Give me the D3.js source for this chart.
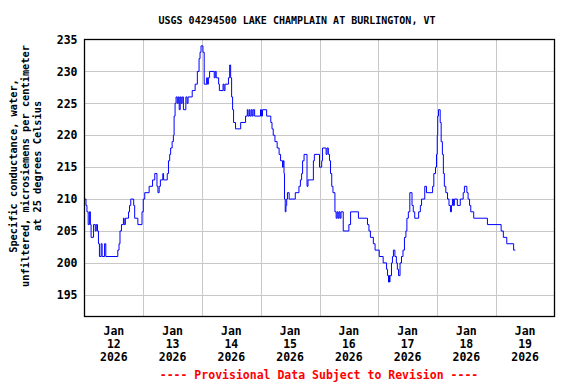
<!DOCTYPE html>
<html>
<head>
<meta charset="utf-8">
<script src="https://cdn.jsdelivr.net/npm/d3@7"></script>
<style>
  body { margin: 0; background: #fff; }
  svg { display: block; }
  text { font-family: "DejaVu Sans Mono", monospace; font-weight: bold; }
</style>
</head>
<body>
<div id="chart"></div>
<script>
// ---------------- DATA ----------------
const title = "USGS 04294500 LAKE CHAMPLAIN AT BURLINGTON, VT";
const yLabelLines = ["Specific conductance, water,", "unfiltered, microsiemens per centimeter", "at 25 degrees Celsius"];
const footer = "---- Provisional Data Subject to Revision ----";

const yTicks = [195, 200, 205, 210, 215, 220, 225, 230, 235];
const dayLabels = ["12", "13", "14", "15", "16", "17", "18", "19"];

// hours after 2026-01-12 00:00
const hours = [
  0.0, 0.6, 1.0, 1.5, 2.0, 2.4, 2.7, 3.7, 4.4, 4.8, 5.3, 5.7, 6.1, 6.8, 7.2, 8.2, 8.7,
  13.6, 14.1, 14.5, 15.1, 15.9, 16.2, 16.7, 18.0, 18.4, 18.9, 20.1, 20.5, 21.8, 23.5,
  24.0, 24.6, 26.4, 27.8, 28.7, 29.6, 30.0, 30.5, 31.0, 32.0, 32.3, 33.8, 34.3, 34.8,
  35.2, 35.8, 36.3, 36.6, 37.0, 37.4, 37.9, 38.3, 38.7, 39.1, 39.5, 39.9, 40.4, 41.4,
  41.9, 42.3, 44.0, 45.2, 46.1, 46.8, 47.2, 47.6, 48.4, 48.9, 49.9, 50.2, 50.6, 51.1,
  53.0, 53.4, 53.8, 54.8, 55.1, 56.6, 57.0, 57.4, 58.8, 59.3, 59.7, 60.1, 60.5, 60.9,
  61.7, 63.8, 65.8, 66.5, 66.8, 67.3, 67.6, 68.1, 68.5, 68.9, 69.5, 71.9, 72.3, 72.7,
  74.4, 76.1, 76.6, 77.1, 77.8, 78.7, 79.5, 80.1, 80.9, 81.2, 81.5, 81.7, 82.0, 82.3,
  82.6, 82.9, 83.6, 86.1, 87.6, 88.2, 88.7, 89.1, 89.7, 90.9, 91.3, 93.5, 93.9, 96.0,
  96.9, 97.2, 98.7, 99.1, 99.6, 100.1, 100.5, 101.0, 101.5, 102.3, 102.8, 103.2, 103.6,
  104.0, 104.4, 104.8, 105.7, 108.0, 108.7, 111.9, 115.6, 116.2, 116.8, 118.0, 118.7,
  120.4, 122.0, 123.4, 123.8, 124.2, 124.4, 124.6, 124.8, 125.4, 125.8, 126.2, 126.8,
  127.4, 127.8, 128.3, 128.9, 129.5, 130.1, 130.7, 131.3, 131.7, 132.3, 132.9, 133.8,
  134.3, 134.9, 136.5, 137.2, 137.7, 139.0, 139.7, 142.2, 142.7, 143.4, 143.8, 144.1,
  144.3, 144.6, 145.3, 145.7, 146.2, 146.6, 147.0, 147.6, 148.3, 148.9, 149.5, 149.9,
  150.3, 150.7, 151.1, 152.3, 153.5, 154.7, 155.2, 156.2, 156.7, 157.3, 157.8, 159.0,
  164.6, 170.2, 171.1, 172.5, 175.3, 176.0
];
const conductance = [
  210, 209, 208, 206, 208, 206, 204, 206, 205, 206, 205, 203, 201, 203, 201, 203, 201,
  202, 203, 205, 206, 207, 206, 207, 208, 209, 210, 209, 207, 206, 208,
  210, 211, 212, 213, 214, 212, 211, 212, 213, 214, 213, 214, 216, 217,
  218, 219, 220, 223, 225, 226, 225, 226, 224, 226, 225, 226, 224, 226,
  225, 226, 227, 228, 230, 232, 233, 234, 233, 228, 229, 228, 229, 230,
  229, 230, 229, 228, 227, 228, 227, 228, 229, 231, 229, 226, 224, 222,
  221, 222, 223, 224, 223, 224, 223, 224, 223, 224, 223, 224, 223, 224,
  223, 222, 221, 220, 219, 218, 217, 216, 215, 216, 214, 210, 208, 209,
  210, 211, 210, 211, 212, 213, 214, 216, 217, 212, 213, 216, 217, 215,
  216, 218, 217, 218, 217, 216, 214, 212, 211, 208, 207, 208, 207,
  208, 207, 208, 205, 206, 208, 207, 206, 205, 204, 203, 202,
  201, 200, 199, 198, 197, 198, 197, 198, 200, 201, 202, 201,
  200, 199, 198, 200, 201, 202, 204, 205, 207, 208, 211, 209,
  208, 207, 208, 209, 210, 212, 211, 212, 214, 215, 217, 220,
  223, 224, 222, 219, 217, 214, 212, 211, 210, 209, 208, 209,
  210, 209, 210, 209, 210, 211, 212, 211, 210, 209, 208, 207,
  206, 205, 204, 203, 202, 202
];

// ---------------- CHART ----------------
const width = 576, height = 384;
const plot = {left: 84.5, right: 554.5, top: 39.5, bottom: 316.5};

const start = Date.UTC(2026, 0, 12);
const data = hours.map((h, i) => ({t: new Date(start + h * 3600e3), v: conductance[i]}));

const svg = d3.select("#chart")
  .append("svg")
  .attr("width", width)
  .attr("height", height);

const x = d3.scaleUtc()
  .domain([new Date(start), new Date(Date.UTC(2026, 0, 20))])
  .range([plot.left, plot.right]);

const y = d3.scaleLinear()
  .domain([191.6, 235])
  .range([plot.bottom, plot.top]);

// gridlines
const dayTicks = d3.utcDay.range(new Date(Date.UTC(2026, 0, 13)), new Date(Date.UTC(2026, 0, 20)));
svg.append("g")
  .selectAll("line")
  .data(dayTicks)
  .join("line")
  .attr("x1", d => Math.round(x(d)) + 0.5)
  .attr("x2", d => Math.round(x(d)) + 0.5)
  .attr("y1", plot.top)
  .attr("y2", plot.bottom)
  .attr("stroke", "#c8c8c8")
  .attr("stroke-width", 1);

svg.append("g")
  .selectAll("line")
  .data(yTicks.slice(0, -1))
  .join("line")
  .attr("x1", plot.left)
  .attr("x2", plot.right)
  .attr("y1", d => Math.round(y(d)) + 0.5)
  .attr("y2", d => Math.round(y(d)) + 0.5)
  .attr("stroke", "#c8c8c8")
  .attr("stroke-width", 1);

// data line
svg.append("path")
  .datum(data)
  .attr("fill", "none")
  .attr("stroke", "#0000ff")
  .attr("stroke-width", 1)
  .attr("d", d3.line().x(d => x(d.t)).y(d => y(d.v)).curve(d3.curveStepAfter));

// frame
svg.append("rect")
  .attr("x", plot.left)
  .attr("y", plot.top)
  .attr("width", plot.right - plot.left)
  .attr("height", plot.bottom - plot.top)
  .attr("fill", "none")
  .attr("stroke", "#000")
  .attr("stroke-width", 1.3);

// y axis labels
const yAxis = svg.append("g")
  .attr("transform", `translate(${plot.left - 7},0)`)
  .call(d3.axisLeft(y).tickValues(yTicks).tickSize(0).tickPadding(0));
yAxis.select(".domain").remove();
yAxis.selectAll("text")
  .attr("font-family", "DejaVu Sans Mono")
  .attr("font-weight", "bold")
  .style("font-size", "11.5px")
  .attr("fill", "#000");

// x axis labels: centered at noon of each day
const noon = dayLabels.map((d, i) => new Date(start + (i + 0.5) * 864e5));
const xl = svg.append("g")
  .selectAll("text")
  .data(noon)
  .join("text")
  .attr("x", d => x(d))
  .attr("y", 335)
  .attr("text-anchor", "middle")
  .style("font-size", "11.5px")
  .attr("fill", "#000");
xl.append("tspan").attr("x", d => x(d)).attr("dy", 0).text("Jan");
xl.append("tspan").attr("x", d => x(d)).attr("dy", 13).text((d, i) => dayLabels[i]);
xl.append("tspan").attr("x", d => x(d)).attr("dy", 13).text("2026");

// title
svg.append("text")
  .attr("x", 297)
  .attr("y", 24)
  .attr("text-anchor", "middle")
  .style("font-size", "10px")
  .text(title);

// y title
const yt = svg.append("text")
  .attr("transform", "translate(0,166) rotate(-90)")
  .attr("text-anchor", "middle")
  .style("font-size", "10.3px");
yLabelLines.forEach((line, i) => {
  yt.append("tspan").attr("x", 0).attr("y", 17 + i * 12).text(line);
});

// footer
svg.append("text")
  .attr("x", 319)
  .attr("y", 379)
  .attr("text-anchor", "middle")
  .style("font-size", "11.5px")
  .attr("fill", "#ff0000")
  .text(footer);
</script>
</body>
</html>
